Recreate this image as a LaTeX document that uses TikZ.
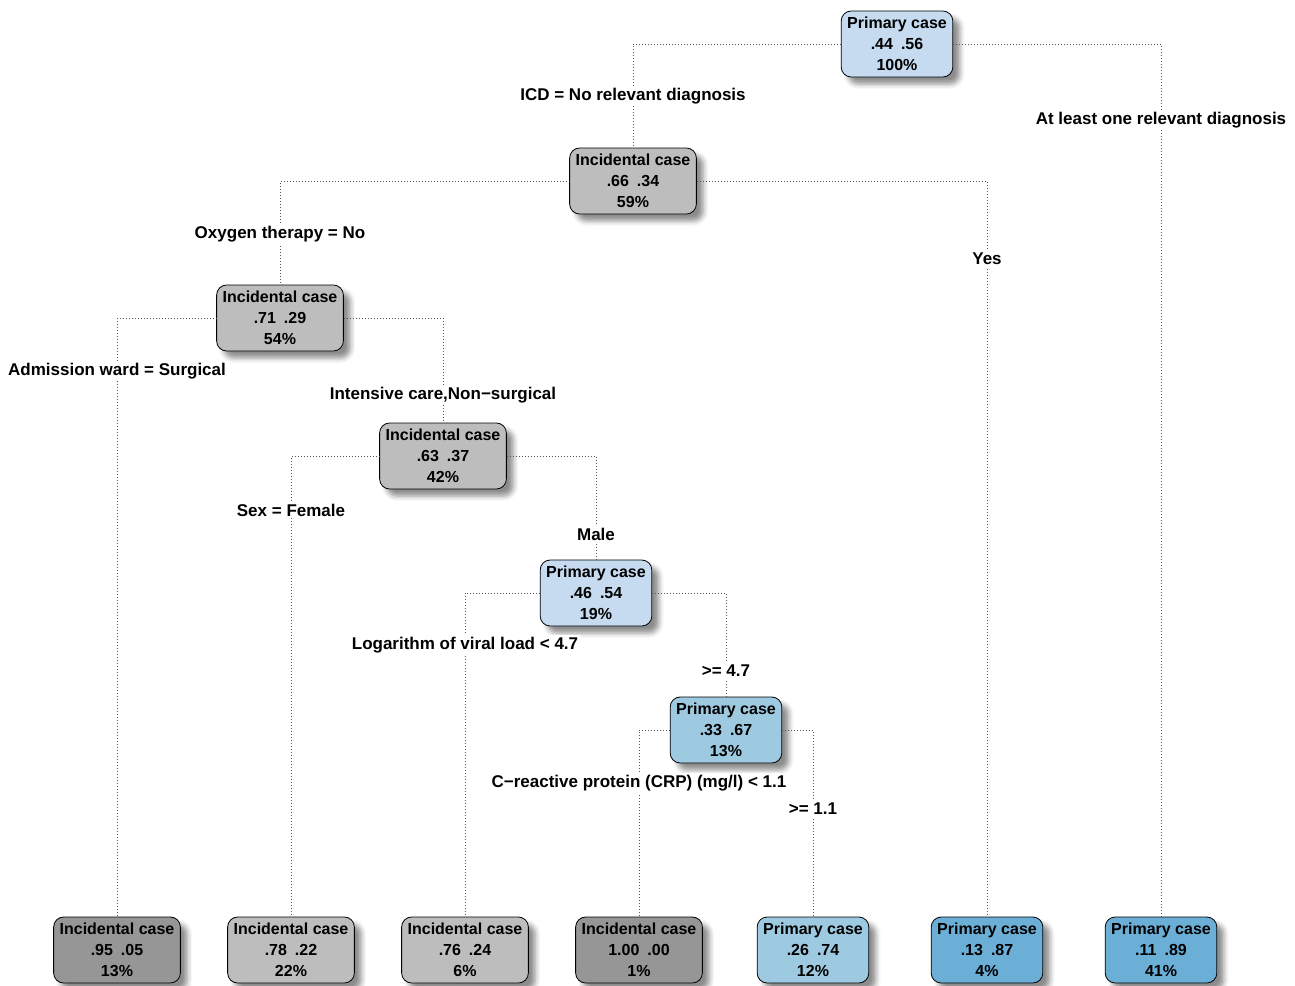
\documentclass[tikz,border=0pt]{standalone}
\usepackage{fontspec}
\setmainfont{Liberation Sans}
\usetikzlibrary{shadows.blur}
\definecolor{cB1}{HTML}{C6DBEF}
\definecolor{cB2}{HTML}{9ECAE1}
\definecolor{cB3}{HTML}{6BAED6}
\definecolor{cG1}{HTML}{BDBDBD}
\definecolor{cG2}{HTML}{969696}
\definecolor{cEdge}{HTML}{555555}
\tikzset{
  tnode/.style={draw=black, line width=0.8pt, rounded corners=10pt, align=center,
    font=\fontsize{16}{21}\selectfont\bfseries, inner xsep=6pt, minimum height=66pt,
    blur shadow={shadow xshift=7pt, shadow yshift=-7pt, shadow blur radius=5pt, shadow opacity=45}},
  edge/.style={draw=cEdge, line width=0.7pt, dash pattern=on 0.7pt off 2.3pt},
  lbl/.style={fill=white, inner sep=2pt, font=\fontsize{17}{19}\selectfont\bfseries}
}
\begin{document}
\begin{tikzpicture}[x=1pt,y=-1pt]
\useasboundingbox (0,0) rectangle (1295,985);
% internal nodes
\node[tnode, fill=cB1] (n1) at (897,44) {Primary case\\.44\enspace.56\\100\%};
\node[tnode, fill=cG1] (n2) at (633,181) {Incidental case\\.66\enspace.34\\59\%};
\node[tnode, fill=cG1] (n3) at (280,318) {Incidental case\\.71\enspace.29\\54\%};
\node[tnode, fill=cG1] (n4) at (443,456) {Incidental case\\.63\enspace.37\\42\%};
\node[tnode, fill=cB1] (n5) at (596,593) {Primary case\\.46\enspace.54\\19\%};
\node[tnode, fill=cB2] (n6) at (726,730) {Primary case\\.33\enspace.67\\13\%};
% leaves
\node[tnode, fill=cG2] (f1) at (117,950) {Incidental case\\.95\enspace.05\\13\%};
\node[tnode, fill=cG1] (f2) at (291,950) {Incidental case\\.78\enspace.22\\22\%};
\node[tnode, fill=cG1] (f3) at (465,950) {Incidental case\\.76\enspace.24\\6\%};
\node[tnode, fill=cG2] (f4) at (639,950) {Incidental case\\1.00\enspace.00\\1\%};
\node[tnode, fill=cB2] (f5) at (813,950) {Primary case\\.26\enspace.74\\12\%};
\node[tnode, fill=cB3] (f6) at (987,950) {Primary case\\.13\enspace.87\\4\%};
\node[tnode, fill=cB3] (f7) at (1161,950) {Primary case\\.11\enspace.89\\41\%};
% edges
\draw[edge] (n1.west) -| (n2.north);
\draw[edge] (n1.east) -| (f7.north);
\draw[edge] (n2.west) -| (n3.north);
\draw[edge] (n2.east) -| (f6.north);
\draw[edge] (n3.west) -| (f1.north);
\draw[edge] (n3.east) -| (n4.north);
\draw[edge] (n4.west) -| (f2.north);
\draw[edge] (n4.east) -| (n5.north);
\draw[edge] (n5.west) -| (f3.north);
\draw[edge] (n5.east) -| (n6.north);
\draw[edge] (n6.west) -| (f4.north);
\draw[edge] (n6.east) -| (f5.north);
% labels
\node[lbl] (l1) at (633,96) {ICD = No relevant diagnosis};
\node[lbl] (l2) at (1161,120) {At least one relevant diagnosis};
\node[lbl] (l3) at (280,234) {Oxygen therapy = No};
\node[lbl] (l4) at (987,259) {Yes};
\node[lbl] (l5) at (117,371) {Admission ward = Surgical};
\node[lbl] (l6) at (443,395) {Intensive care,Non−surgical};
\node[lbl] (l7) at (291,510) {Sex = Female};
\node[lbl] (l8) at (596,534) {Male};
\node[lbl] (l9) at (465,645) {Logarithm of viral load < 4.7};
\node[lbl] (l10) at (726,671) {>= 4.7};
\node[lbl] (l11) at (639,783) {C−reactive protein (CRP) (mg/l) < 1.1};
\node[lbl] (l12) at (813,809) {>= 1.1};
\end{tikzpicture}
\end{document}
